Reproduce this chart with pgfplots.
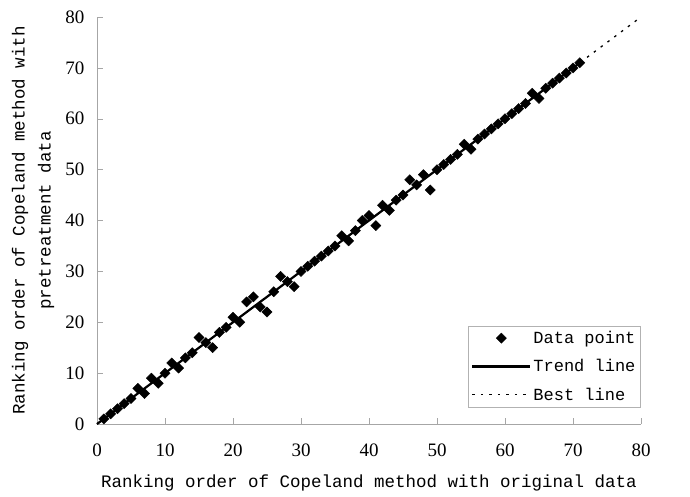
\documentclass[border=0pt]{standalone}
\usepackage{fontspec}
\setmainfont{Liberation Serif}
\newfontfamily\monofont{Liberation Mono}
\usepackage{pgfplots}
\pgfplotsset{compat=1.18}
\pgfplotsset{
  markleg/.style={legend image code/.code={\draw[mark repeat=2,mark phase=2,##1] plot coordinates {(0pt,0pt) (29pt,0pt) (58pt,0pt)};}},
  lineleg/.style={legend image code/.code={\draw[##1] (0pt,0pt) -- (58pt,0pt);}},
}
\begin{document}
\begin{tikzpicture}
\path[use as bounding box] (0,0) rectangle (690pt,496pt);
\begin{axis}[
  at={(97pt,72pt)}, anchor=south west,
  scale only axis, width=544pt, height=407pt,
  xmin=0, xmax=80, ymin=0, ymax=80,
  axis x line=bottom, axis y line=left,
  axis line style={draw=gray!70, -},
  xtick={0,10,...,80}, ytick={0,10,...,80},
  tick align=inside, major tick length=6pt,
  tick style={gray!70, thin},
  tick label style={font=\fontsize{19}{22}\selectfont},
  /pgf/number format/assume math mode=true,
  xticklabel style={yshift=-16pt},
  yticklabel style={xshift=-9pt},
  xlabel={Ranking order of Copeland method with original data},
  ylabel={Ranking order of Copeland method with\\pretreatment data},
  label style={font=\monofont\fontsize{17.5}{26}\selectfont},
  xlabel style={at={(axis description cs:0.5,-0.145)}, anchor=center},
  ylabel style={align=center, at={(axis description cs:-0.1176,0.5)}, anchor=center},
  clip=false,
  legend style={at={(0.682,0.042)}, anchor=south west, draw=gray!60,
    font=\monofont\fontsize{17}{20}\selectfont, inner sep=3pt,
    row sep=10.5pt, cells={anchor=west}},
  legend cell align=left,
]
\addplot[only marks, mark=square*, mark size=3.6pt, mark options={rotate=45, fill=black, draw=black}, markleg]
coordinates {
(1,1)(2,2)(3,3)(4,4)(5,5)(6,7)(7,6)(8,9)(9,8)(10,10)
(11,12)(12,11)(13,13)(14,14)(15,17)(16,16)(17,15)(18,18)(19,19)(20,21)
(21,20)(22,24)(23,25)(24,23)(25,22)(26,26)(27,29)(28,28)(29,27)(30,30)
(31,31)(32,32)(33,33)(34,34)(35,35)(36,37)(37,36)(38,38)(39,40)(40,41)
(41,39)(42,43)(43,42)(44,44)(45,45)(46,48)(47,47)(48,49)(49,46)(50,50)
(51,51)(52,52)(53,53)(54,55)(55,54)(56,56)(57,57)(58,58)(59,59)(60,60)
(61,61)(62,62)(63,63)(64,65)(65,64)(66,66)(67,67)(68,68)(69,69)(70,70)
(71,71)
};
\addlegendentry{Data point}
\addplot[black, line width=2.2pt, lineleg]
coordinates {(0,0) (71,71)};
\addlegendentry{Trend line}
\addplot[black, line width=1.3pt, dash pattern=on 2.5pt off 6pt, lineleg]
coordinates {(0,0) (80,80)};
\addlegendentry{Best line}
\end{axis}
\end{tikzpicture}
\end{document}
